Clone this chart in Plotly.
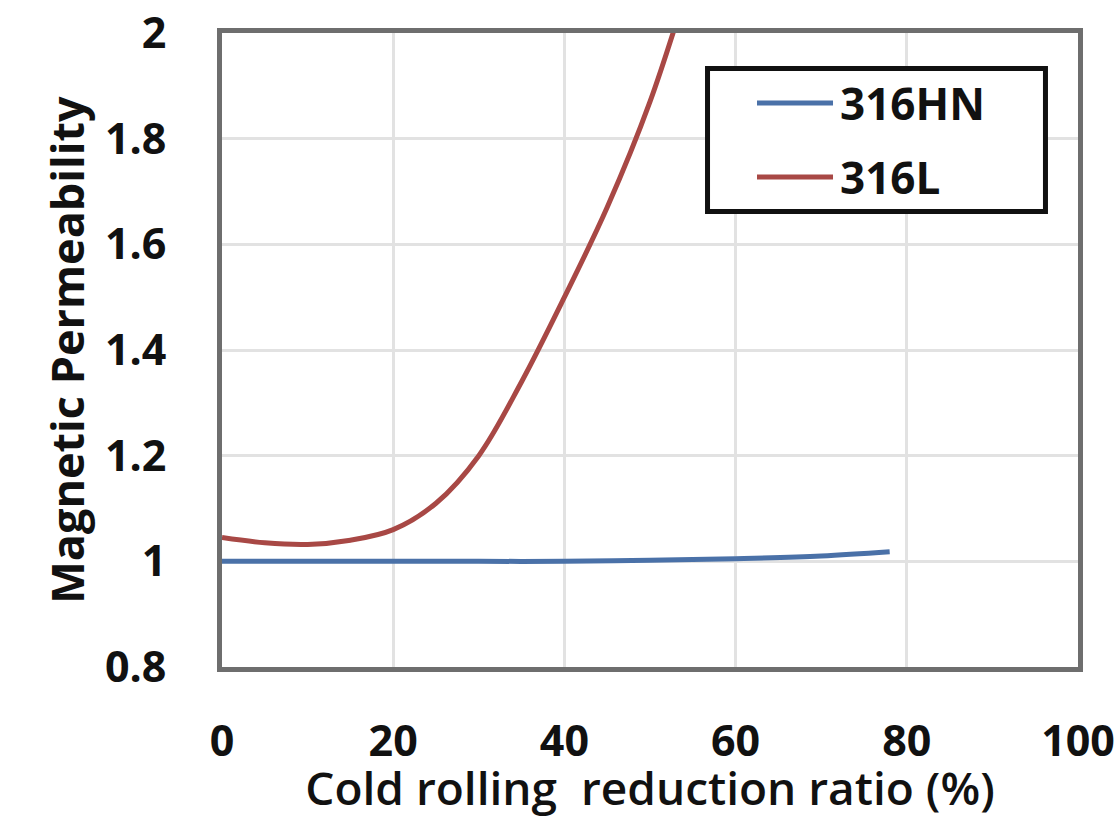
import plotly.graph_objects as go

# Data
x_316hn = [0, 10, 20, 30, 40, 50, 60, 70, 78]
y_316hn = [1.0, 1.0, 1.0, 1.0, 1.0, 1.002, 1.005, 1.01, 1.018]

x_316l = [0, 5, 10, 15, 20, 25, 30, 35, 40, 45, 50, 55]
y_316l = [1.045, 1.035, 1.032, 1.04, 1.06, 1.11, 1.2, 1.34, 1.5, 1.67, 1.87, 2.12]

x_ticks = [0, 20, 40, 60, 80, 100]
y_ticks = [0.8, 1.0, 1.2, 1.4, 1.6, 1.8, 2.0]

series_names = ["316HN", "316L"]
series_colors = ["#4A71A8", "#A84845"]

FONT = "Open Sans"

fig = go.Figure()
fig.add_trace(go.Scatter(x=x_316hn, y=y_316hn, mode="lines", name=series_names[0],
                         line=dict(color=series_colors[0], width=5, shape="spline")))
fig.add_trace(go.Scatter(x=x_316l, y=y_316l, mode="lines", name=series_names[1],
                         line=dict(color=series_colors[1], width=5, shape="spline")))

axis_common = dict(
    showgrid=True, gridcolor="#E2E2E2", gridwidth=3,
    showline=True, linecolor="#6E6E6E", linewidth=5, mirror=True,
    zeroline=False, ticks="", automargin=False, ticklabeloverflow="allow",
    tickfont=dict(family=FONT, size=43, color="#111111", weight="bold"),
)

fig.update_layout(
    width=1114, height=818,
    margin=dict(l=222, r=36, t=33, b=151, autoexpand=False),
    paper_bgcolor="white", plot_bgcolor="white",
    xaxis=dict(range=[0, 100], tickvals=x_ticks, ticklabelstandoff=32,
               title=dict(text="Cold rolling  reduction ratio (%)", standoff=0,
                          font=dict(family=FONT, size=46, color="#111111", weight=600)),
               **axis_common),
    yaxis=dict(range=[0.8, 2.0], tickvals=y_ticks, ticklabelstandoff=42,
               title=dict(text="Magnetic Permeability", standoff=8,
                          font=dict(family=FONT, size=45, color="#111111", weight="bold")),
               **axis_common),
    showlegend=False,
)

# Legend box drawn in paper coordinates (layout only)
fig.add_shape(type="rect", xref="paper", yref="paper",
              x0=0.5672, x1=0.9620, y0=0.7185, y1=0.9440,
              line=dict(color="#111111", width=5), fillcolor="white", layer="above")
legend_y = [0.8896, 0.7729]
for name, color, ly in zip(series_names, series_colors, legend_y):
    fig.add_shape(type="line", xref="paper", yref="paper",
                  x0=0.625, x1=0.7138, y0=ly, y1=ly,
                  line=dict(color=color, width=5), layer="above")
    fig.add_annotation(xref="paper", yref="paper", x=0.7196, y=ly,
                       xanchor="left", yanchor="middle", showarrow=False,
                       text=name,
                       font=dict(family=FONT, size=44, color="#111111", weight="bold"))

fig.write_html("out.html", config={"displayModeBar": False},
               post_script="document.body.style.margin='0';")
